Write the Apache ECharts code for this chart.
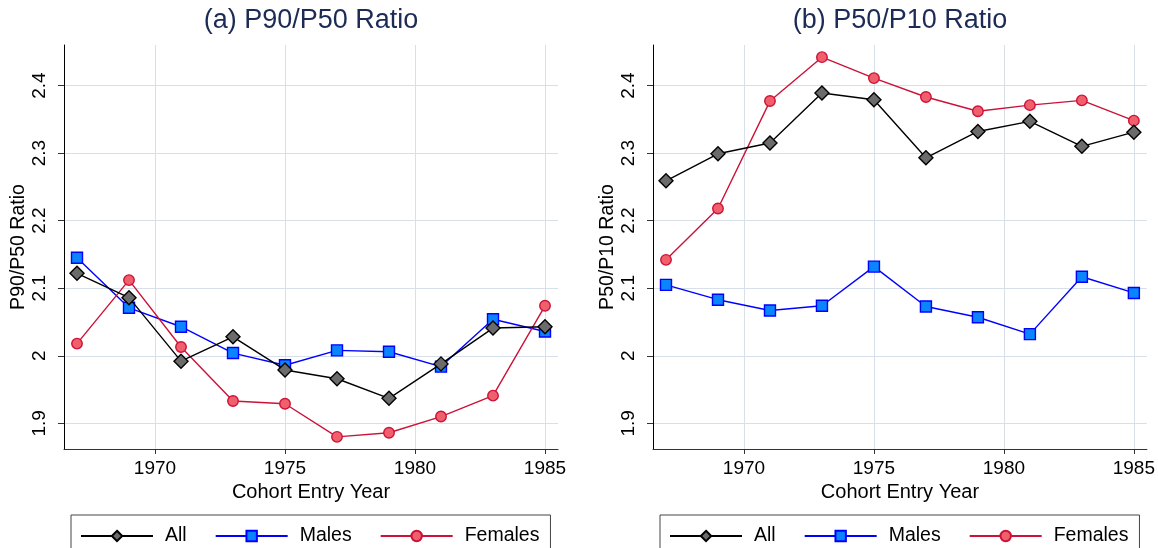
<!DOCTYPE html>
<html>
<head>
<meta charset="utf-8">
<script src="https://cdn.jsdelivr.net/npm/echarts@6/dist/echarts.min.js"></script>
<style>
html,body{margin:0;padding:0;background:#fff;}
#chart{width:1158px;height:548px;}
</style>
</head>
<body>
<div id="chart"></div>
<script>
// ---- data ----
const years = [1967, 1969, 1971, 1973, 1975, 1977, 1979, 1981, 1983, 1985];
const p9050All     = [2.122, 2.086, 1.992, 2.028, 1.979, 1.966, 1.937, 1.988, 2.041, 2.043];
const p9050Males   = [2.145, 2.071, 2.043, 2.004, 1.986, 2.008, 2.006, 1.984, 2.054, 2.036];
const p9050Females = [2.018, 2.112, 2.013, 1.933, 1.929, 1.880, 1.886, 1.910, 1.941, 2.074];
const p5010All     = [2.259, 2.299, 2.315, 2.389, 2.379, 2.293, 2.332, 2.347, 2.310, 2.331];
const p5010Males   = [2.105, 2.083, 2.067, 2.074, 2.132, 2.073, 2.057, 2.032, 2.117, 2.093];
const p5010Females = [2.142, 2.218, 2.377, 2.442, 2.411, 2.383, 2.362, 2.371, 2.378, 2.348];
const xTickValues = [1970, 1975, 1980, 1985];
const yTickValues = [1.9, 2.0, 2.1, 2.2, 2.3, 2.4];
const seriesNames = ['All', 'Males', 'Females'];
const panelTitles = ['(a) P90/P50 Ratio', '(b) P50/P10 Ratio'];
const yNames = ['P90/P50 Ratio', 'P50/P10 Ratio'];
const xName = 'Cohort Entry Year';

// ---- styling ----
const FONT = 'Liberation Sans, Arial, Helvetica, sans-serif';
const GRID_COLOR = '#d7dfe9';
const styles = {
  All:     { symbol: 'diamond', size: 14, line: '#000000', fill: '#6b6b6b', border: '#000000' },
  Males:   { symbol: 'rect',    size: 11, line: '#0000ff', fill: '#0a84ff', border: '#0000ff' },
  Females: { symbol: 'circle',  size: 10.5, line: '#cc1238', fill: '#f0606c', border: '#cc1238' }
};

function pairs(vals) { return years.map((y, i) => [y, vals[i]]); }

const panelData = [
  [p9050All, p9050Males, p9050Females],
  [p5010All, p5010Males, p5010Females]
];

const gridLefts = [64, 653];
const gridW = 494;

const option = {
  backgroundColor: '#ffffff',
  animation: false,
  title: panelTitles.map((t, i) => ({
    text: t,
    left: gridLefts[i] + gridW / 2,
    top: 7,
    textAlign: 'center',
    padding: 0,
    textStyle: { fontFamily: FONT, fontSize: 27, fontWeight: 'normal', color: '#1c2b55' }
  })),
  legend: [0, 1].map(i => ({
    left: gridLefts[i] + 7,
    top: 515,
    orient: 'horizontal',
    itemWidth: 72,
    itemHeight: 13,
    itemGap: 28,
    padding: [11, 11, 11, 9],
    borderColor: '#444',
    borderWidth: 1,
    backgroundColor: '#fff',
    data: seriesNames.map(n => ({ name: n })),
    textStyle: { fontFamily: FONT, fontSize: 19.5, color: '#000', padding: [0, 0, 0, 7] },
    selectedMode: false
  })),
  grid: gridLefts.map(l => ({ left: l, top: 45, width: gridW, height: 404, containLabel: false })),
  xAxis: [0, 1].map(i => ({
    type: 'value',
    gridIndex: i,
    min: 1966.5,
    max: 1985.5,
    name: xName,
    nameLocation: 'middle',
    nameGap: 30,
    nameTextStyle: { fontFamily: FONT, fontSize: 20, color: '#000' },
    axisLine: { show: true, lineStyle: { color: '#333', width: 1 } },
    axisTick: { show: true, length: 5, customValues: xTickValues, lineStyle: { color: '#333' } },
    axisLabel: { customValues: xTickValues, margin: 10, fontFamily: FONT, fontSize: 19, color: '#000', formatter: v => String(v) },
    splitLine: { show: true, lineStyle: { color: GRID_COLOR, width: 1 } }
  })),
  yAxis: [0, 1].map(i => ({
    type: 'value',
    gridIndex: i,
    min: 1.862,
    max: 2.46,
    name: yNames[i],
    nameLocation: 'middle',
    nameGap: 34,
    nameRotate: 90,
    nameTextStyle: { fontFamily: FONT, fontSize: 19.5, color: '#000' },
    axisLine: { show: true, lineStyle: { color: '#000', width: 1 } },
    axisTick: { show: true, length: 6, customValues: yTickValues, lineStyle: { color: '#333' } },
    axisLabel: { customValues: yTickValues, rotate: 90, margin: 15, fontFamily: FONT, fontSize: 19, color: '#000' },
    splitLine: { show: true, lineStyle: { color: GRID_COLOR, width: 1 } }
  })),
  series: []
};

[0, 1].forEach(p => {
  seriesNames.forEach((n, k) => {
    const s = styles[n];
    option.series.push({
      name: n,
      type: 'line',
      xAxisIndex: p,
      yAxisIndex: p,
      data: pairs(panelData[p][k]),
      symbol: s.symbol,
      symbolSize: s.size,
      showAllSymbol: true,
      lineStyle: { color: s.line, width: 1.4 },
      itemStyle: { color: s.fill, borderColor: s.border, borderWidth: 1.4 },
      emphasis: { disabled: true },
      z: 3 + (n === 'All' ? 2 : (n === 'Males' ? 0 : 1))
    });
  });
});

const chart = echarts.init(document.getElementById('chart'), null, { renderer: 'canvas' });
chart.setOption(option);
</script>
</body>
</html>
